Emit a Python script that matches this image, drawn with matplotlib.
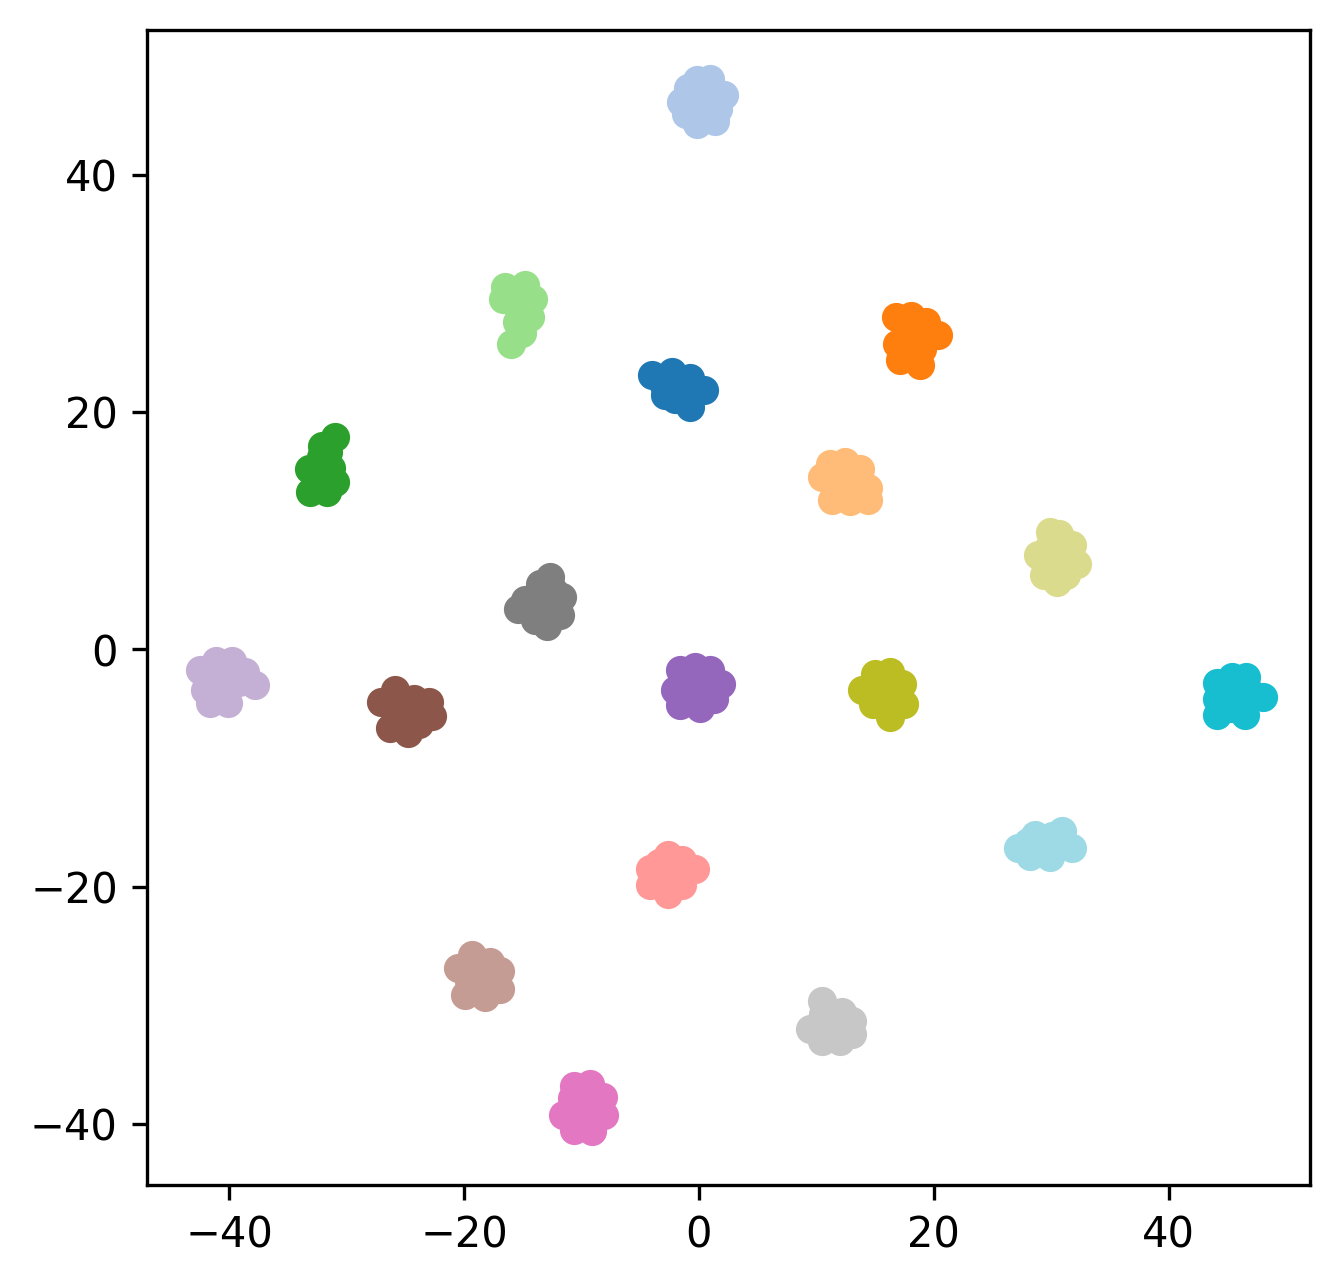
import numpy as np
import matplotlib
matplotlib.use("Agg")
import matplotlib.pyplot as plt

# tab20 colour index of each cluster
color_idx = [1, 4, 5, 2, 0, 3, 17, 14, 9, 10, 8, 16, 18, 19, 7, 11, 15, 12]

# points of each cluster
xs = [
    [-0.2, 0.9, -1.5, 2.1, -0.2, 1.4, -0.9, -1.1, 1.6, 0.3, 0.5, -0.5],
    [-31.0, -32.1, -33.2, -31.3, -33.1, -31.7, -32.5, -31.0, -32.2, -31.6],
    [-16.5, -14.8, -14.1, -16.7, -15.4, -14.4, -16.0, -15.1, -15.6, -15.5],
    [16.8, 18.1, 19.3, 20.4, 18.0, 16.9, 19.0, 17.1, 18.8, 18.3, 17.8],
    [-4.0, -2.3, -0.8, 0.4, -1.6, -2.9, -0.8, -2.0, -1.2, -3.0],
    [10.5, 11.2, 12.4, 13.7, 14.4, 14.4, 12.9, 11.3, 12.4, 13.3, 11.6],
    [29.9, 30.7, 31.8, 28.9, 32.2, 30.2, 29.4, 30.5, 31.3, 30.6, 29.8],
    [-12.7, -13.5, -14.8, -15.4, -11.7, -13.1, -14.0, -12.9, -11.8, -13.8, -12.4],
    [-42.5, -41.1, -39.8, -38.7, -37.8, -42.1, -40.4, -41.6, -40.1, -39.2, -41.3],
    [-25.9, -27.1, -24.3, -23.0, -22.7, -25.5, -26.3, -24.8, -23.8, -24.5, -26.0],
    [-1.6, -0.3, 0.9, 1.9, -2.0, -0.3, -1.6, 0.1, 1.3, 0.8, -0.9],
    [15.0, 16.3, 17.3, 13.9, 15.5, 17.5, 14.8, 16.3, 16.6, 15.2],
    [44.1, 45.4, 46.6, 48.0, 44.1, 45.7, 44.1, 46.5, 45.4, 46.8, 45.0],
    [27.2, 28.6, 30.1, 30.9, 31.8, 28.2, 29.9, 29.0, 30.6, 28.0],
    [-2.6, -1.4, -0.3, -4.2, -2.9, -4.2, -2.6, -1.4, -1.8, -3.4],
    [-19.3, -17.8, -16.9, -20.5, -18.8, -19.9, -18.2, -16.9, -17.6, -19.6],
    [10.5, 12.2, 13.0, 9.5, 11.2, 10.5, 12.0, 13.0, 11.8, 10.6],
    [-10.6, -9.3, -8.2, -8.1, -11.6, -10.1, -10.6, -9.1, -9.2, -10.8],
]
ys = [
    [48.0, 48.1, 46.1, 46.7, 44.3, 44.5, 47.3, 45.1, 45.5, 46.3, 47.0, 45.6],
    [17.9, 17.1, 15.2, 15.3, 13.3, 13.3, 14.1, 14.1, 16.2, 16.6],
    [30.5, 30.7, 29.5, 29.5, 28.8, 28.0, 25.7, 26.7, 29.9, 27.6],
    [28.0, 28.1, 27.6, 26.5, 26.5, 25.7, 25.3, 24.4, 24.0, 26.9, 25.0],
    [23.1, 23.4, 22.9, 21.9, 21.7, 21.4, 20.4, 21.1, 22.4, 22.3],
    [14.5, 15.6, 15.8, 15.2, 13.6, 12.6, 12.5, 12.6, 13.9, 14.4, 13.4],
    [9.9, 9.7, 8.8, 8.0, 7.2, 7.2, 6.3, 5.7, 6.3, 8.5, 8.6],
    [6.1, 5.5, 4.2, 3.4, 4.4, 3.8, 2.5, 2.0, 2.9, 4.6, 5.0],
    [-1.7, -1.0, -1.0, -1.9, -3.0, -3.4, -3.2, -4.5, -4.5, -2.7, -2.3],
    [-3.4, -4.4, -4.2, -4.4, -5.6, -5.5, -6.6, -7.0, -6.3, -5.2, -5.0],
    [-1.7, -1.5, -1.7, -2.9, -3.4, -3.4, -4.7, -4.9, -4.2, -3.3, -2.6],
    [-2.1, -1.9, -2.9, -3.4, -3.8, -4.6, -4.6, -5.7, -3.6, -2.9],
    [-2.8, -2.3, -2.3, -4.0, -4.2, -3.8, -5.5, -5.5, -4.9, -3.4, -3.0],
    [-16.7, -15.6, -15.7, -15.3, -16.7, -17.4, -17.5, -16.7, -16.5, -16.2],
    [-17.3, -17.7, -18.5, -18.5, -18.9, -19.8, -20.6, -19.8, -18.9, -18.0],
    [-25.7, -26.3, -27.1, -26.8, -27.6, -29.1, -29.3, -28.6, -27.9, -27.9],
    [-29.6, -30.5, -31.3, -32.0, -31.6, -33.0, -33.0, -32.4, -31.8, -30.7],
    [-36.8, -36.6, -37.7, -39.2, -39.2, -38.7, -40.5, -40.6, -38.3, -37.8],
]

cmap = plt.get_cmap("tab20")

fig, ax = plt.subplots(figsize=(5, 5))
for x, y, c in zip(xs, ys, color_idx):
    ax.scatter(x, y, s=36, color=cmap(c))

ax.set_xlim(-47, 52)
ax.set_ylim(-45.1, 52.2)
ax.set_xticks([-40, -20, 0, 20, 40])
ax.set_yticks([-40, -20, 0, 20, 40])

plt.savefig("out.png", dpi=300, bbox_inches="tight")
